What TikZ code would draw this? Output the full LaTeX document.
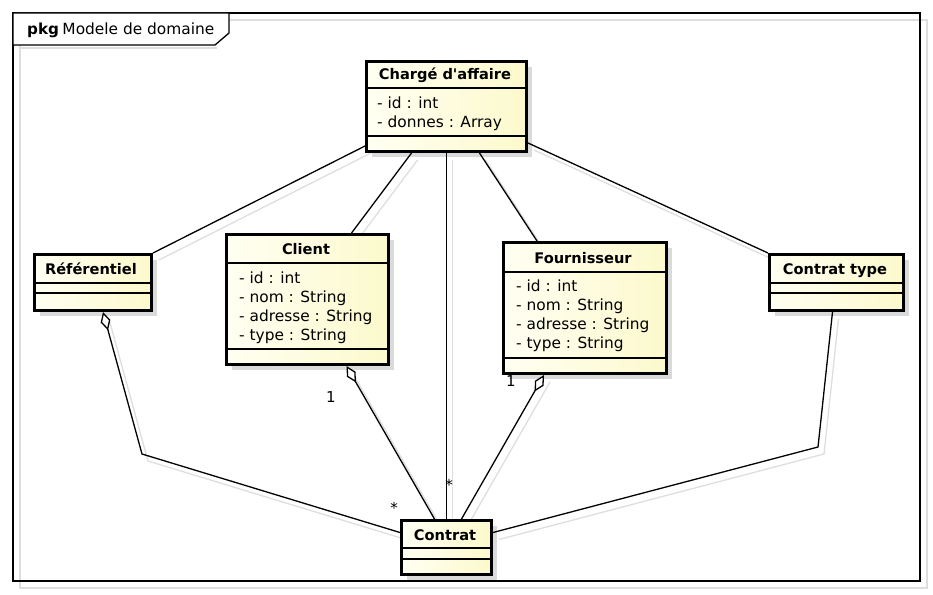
\documentclass[tikz,border=0pt]{standalone}
\usepackage{fontspec}
\setmainfont{DejaVu Sans}
\usetikzlibrary{arrows.meta,calc}
\definecolor{ylA}{RGB}{255,255,242}
\definecolor{ylB}{RGB}{252,249,204}
\definecolor{shd}{RGB}{218,218,218}
\definecolor{ghostc}{RGB}{222,222,222}
\begin{document}
\begin{tikzpicture}[x=1pt,y=-1pt,
  cls/.style={draw=black, line width=3pt, left color=ylA, right color=ylB, inner sep=0pt, anchor=north west},
  shadowbox/.style={fill=shd},
  sepline/.style={line width=1.4pt},
  conn/.style={line width=1.3pt},
  ghost/.style={draw=ghostc, line width=1.3pt, transform canvas={shift={(6,7)}}},
  ttl/.style={font=\bfseries\fontsize{14.6}{17}\selectfont, inner sep=0pt, anchor=base},
  attr/.style={font=\fontsize{15.4}{17}\selectfont, inner sep=0pt, anchor=base west},
  mult/.style={font=\fontsize{15}{17}\selectfont, inner sep=0pt},
  agg/.style={{Diamond[fill=white,length=19pt,width=10pt]}-}
]
\useasboundingbox (0,0) rectangle (933,594);

% frame
\draw[draw=ghostc, line width=1.3pt] (20,20) rectangle (927,588);
\draw[line width=1.3pt] (13,13) rectangle (920,581);
\draw[draw=ghostc, line width=1.3pt] (20,48) -- (217,48);
\draw[line width=1.3pt, fill=white] (13,13) -- (229,13) -- (229,33) -- (215,45) -- (13,45) -- cycle;
\node[font=\bfseries\fontsize{15.2}{17}\selectfont, inner sep=0pt, anchor=base west] (pkg) at (27,35) {pkg};
\node[font=\fontsize{15.4}{17}\selectfont, inner sep=0pt, anchor=base west] (pkgname) at ([xshift=3pt]pkg.base east) {Modele de domaine};

\path
  (365,60) coordinate (chNW)
  (225,233) coordinate (clNW)
  (502,241) coordinate (foNW)
  (33,253) coordinate (refNW)
  (768,253) coordinate (cttNW)
  (400,519) coordinate (ctNW);

% shadows
\fill[shadowbox] (372,67) rectangle (532,157);
\fill[shadowbox] (232,240) rectangle (394,370);
\fill[shadowbox] (509,248) rectangle (672,379);
\fill[shadowbox] (40,260) rectangle (157,316);
\fill[shadowbox] (775,260) rectangle (909,316);
\fill[shadowbox] (407,526) rectangle (497,580);

% boxes
\node[cls, minimum width=160pt, minimum height=90pt] (ch) at (chNW) {};
\node[cls, minimum width=162pt, minimum height=130pt] (cl) at (clNW) {};
\node[cls, minimum width=163pt, minimum height=131pt] (fo) at (foNW) {};
\node[cls, minimum width=117pt, minimum height=56pt] (ref) at (refNW) {};
\node[cls, minimum width=134pt, minimum height=56pt] (ctt) at (cttNW) {};
\node[cls, minimum width=90pt, minimum height=54pt] (ct) at (ctNW) {};

% bend points
\coordinate (refBend) at (142,454);
\coordinate (cttBend) at (818,447);

% connectors (ghost then black)
\foreach \g in {ghost,conn}{
  \draw[\g] ([yshift=7pt]ch.south west) -- (ref.north east);
  \draw[\g] ([xshift=-35pt]ch.south) -- ([xshift=44pt]cl.north);
  \draw[\g] (ch.south) -- (ct.north);
  \draw[\g] ([xshift=33pt]ch.south) -- ([xshift=35pt]fo.north west);
  \draw[\g] ([yshift=10pt]ch.south east) -- (ctt.north west);
  \draw[\g] ([xshift=-4pt]ctt.south) -- (cttBend) -- ([yshift=15pt]ct.east);
}
\draw[ghost] ([xshift=10pt]ref.south) -- (refBend) -- ([yshift=15pt]ct.west);
\draw[ghost] ([xshift=39pt]cl.south) -- ([xshift=-12pt]ct.north);
\draw[ghost] ([xshift=-41pt]fo.south) -- ([xshift=15pt]ct.north);
\draw[conn, agg] ([xshift=10pt]ref.south) -- (refBend) -- ([yshift=15pt]ct.west);
\draw[conn, agg] ([xshift=39pt]cl.south) -- ([xshift=-12pt]ct.north);
\draw[conn, agg] ([xshift=-41pt]fo.south) -- ([xshift=15pt]ct.north);

% redraw boxes on top of ghost lines
\node[cls, minimum width=160pt, minimum height=90pt] (ch2) at (chNW) {};
\node[cls, minimum width=162pt, minimum height=130pt] (cl2) at (clNW) {};
\node[cls, minimum width=163pt, minimum height=131pt] (fo2) at (foNW) {};
\node[cls, minimum width=117pt, minimum height=56pt] (ref2) at (refNW) {};
\node[cls, minimum width=134pt, minimum height=56pt] (ctt2) at (cttNW) {};
\node[cls, minimum width=90pt, minimum height=54pt] (ct2) at (ctNW) {};

% separators
\draw[sepline] (365,88) -- (525,88);   \draw[sepline] (365,136) -- (525,136);
\draw[sepline] (225,263) -- (387,263); \draw[sepline] (225,349) -- (387,349);
\draw[sepline] (502,272) -- (665,272); \draw[sepline] (502,358) -- (665,358);
\draw[sepline] (33,283) -- (150,283);  \draw[sepline] (33,293) -- (150,293);
\draw[sepline] (768,283) -- (902,283); \draw[sepline] (768,293) -- (902,293);
\draw[sepline] (400,548) -- (490,548); \draw[sepline] (400,559) -- (490,559);

% texts
\node[ttl] (chT) at (445,79) {Chargé d\textquotesingle affaire};
\node[attr] (chA1) at (377,108) {- id : int};
\node[attr] (chA2) at (377,127) {- donnes : Array};

\node[ttl] (clT) at (306,254) {Client};
\node[attr] (clA1) at (239,283) {- id : int};
\node[attr] (clA2) at (239,302) {- nom : String};
\node[attr] (clA3) at (239,321) {- adresse : String};
\node[attr] (clA4) at (239,340) {- type : String};

\node[ttl] (foT) at (583,263) {Fournisseur};
\node[attr] (foA1) at (516,291) {- id : int};
\node[attr] (foA2) at (516,310) {- nom : String};
\node[attr] (foA3) at (516,329) {- adresse : String};
\node[attr] (foA4) at (516,348) {- type : String};

\node[ttl] (refT) at (91,274) {Référentiel};
\node[ttl] (cttT) at (835,274) {Contrat type};
\node[ttl] (ctT) at (445,540) {Contrat};

% multiplicities
\node[mult] (m1) at (331,397) {1};
\node[mult] (m2) at (394,508) {*};
\node[mult] (m3) at (449,485) {*};
\node[mult] (m4) at (511,381) {1};
\end{tikzpicture}
\end{document}
